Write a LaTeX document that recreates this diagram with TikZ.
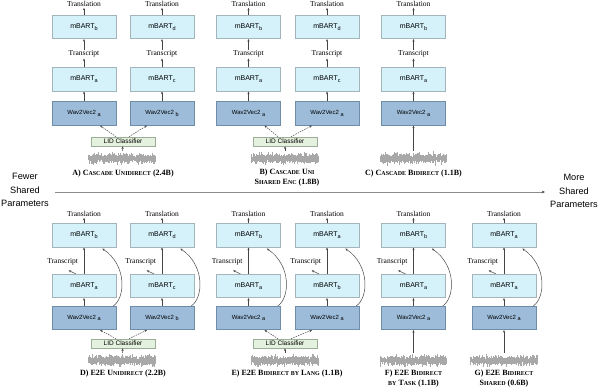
\documentclass[tikz,border=0pt]{standalone}
\usepackage{fontspec}
\setmainfont{Liberation Serif}
\setsansfont{Liberation Sans}
\usetikzlibrary{arrows.meta,calc}
\definecolor{mbfill}{HTML}{D5F2FB}
\definecolor{mbdraw}{HTML}{A3B5BB}
\definecolor{wvfill}{HTML}{9DBCDA}
\definecolor{wvdraw}{HTML}{6F8CA9}
\definecolor{lidfill}{HTML}{E4F1DE}
\definecolor{liddraw}{HTML}{9DAE98}
\definecolor{arrc}{HTML}{454545}
\definecolor{axisc}{HTML}{8C8C8C}
\definecolor{wavec}{HTML}{A8A8A8}
\newcommand\sbs[1]{\raisebox{-1.8pt}{\fontsize{5.5}{5.5}\selectfont #1}}
\newcommand\sm[1]{{\fontsize{6}{6}\selectfont #1}}
\tikzset{
  mb/.style={draw=mbdraw, fill=mbfill, line width=0.6pt, minimum width=64pt, minimum height=23.5pt, inner sep=0pt, font=\sffamily\fontsize{7}{8}\selectfont},
  wv/.style={mb, draw=wvdraw, fill=wvfill, font=\sffamily\fontsize{6}{7}\selectfont},
  lidbox/.style={draw=liddraw, fill=lidfill, line width=0.6pt, minimum width=64pt, minimum height=9pt, inner sep=0pt, font=\sffamily\fontsize{6.5}{7}\selectfont},
  lbl/.style={font=\fontsize{7.5}{8}\selectfont, inner sep=1pt},
  arr/.style={draw=arrc, line width=0.5pt, -{Stealth[length=2.6pt,width=2.2pt]}},
  darr/.style={arr, dash pattern=on 1.5pt off 1pt},
  capt/.style={font=\bfseries\fontsize{8}{10}\selectfont, align=center, inner sep=0pt},
  side/.style={font=\sffamily\fontsize{9.2}{13.3}\selectfont, align=center, inner sep=0pt},
  wavebox/.style={minimum width=67pt, minimum height=15pt, inner sep=0pt},
}
\newcommand\topcol[5]{%
  \node[wv] (#1w) at (#2,113.5) {Wav2Vec2 \sbs{#3}};
  \node[mb] (#1l) at (#2,79.5) {mBART\sbs{#4}};
  \node[lbl] (#1tc) at (#2,54) {Transcript};
  \node[mb] (#1u) at (#2,27) {mBART\sbs{#5}};
  \node[lbl] (#1tl) at (#2,4) {Translation};
  \draw[arr] (#1w) -- (#1l);
  \draw[arr] (#1l) -- (#1tc);
  \draw[arr] (#1tc) -- (#1u);
  \draw[arr] (#1u) -- (#1tl);
}
\newcommand\botcol[5]{%
  \node[wv] (#1w) at (#2,318) {Wav2Vec2 \sbs{#3}};
  \node[mb] (#1l) at (#2,286) {mBART\sbs{#4}};
  \node[mb] (#1u) at (#2,235.5) {mBART\sbs{#5}};
  \node[lbl] (#1tl) at (#2,214) {Translation};
  \node[lbl] (#1tc) at ($(#1l.north west)+(11,-12)$) {Transcript};
  \draw[arr] (#1w) -- (#1l);
  \draw[arr] (#1l) -- (#1u);
  \draw[arr] (#1u) -- (#1tl);
  \draw[arr] ([xshift=-8pt]#1l.north) -- ($(#1tc.south)+(6,4)$);
  \draw[arr] ($(#1w.north east)+(-3,0)$) .. controls ($(#1w.north east)+(9,-8)$) and ($(#1u.south east)+(11,18)$) .. ($(#1u.south east)+(-14,1)$);
}
\newcommand\wave[3]{%
  \node[wavebox] (#1) at (#2,#3) {};
  \foreach \i in {0,...,148} {
    \pgfmathsetmacro\ha{1.0+3.2*rnd+3.2*rnd^4}
    \pgfmathsetmacro\hb{1.0+3.2*rnd+3.2*rnd^4}
    \draw[wavec, line width=0.4pt] (#2-33.5+\i*0.45,#3-\ha) -- (#2-33.5+\i*0.45,#3+\hb);
  }
}
\begin{document}
\begin{tikzpicture}[x=1pt,y=-1pt]
\useasboundingbox (0,0) rectangle (598,388);
\pgfmathsetseed{7}
% ---------- top row ----------
\topcol{A1}{84}{a}{a}{b}
\topcol{A2}{162}{b}{c}{d}
\node[lidbox] (Alid) at (123,141.5) {LID Classifier};
\wave{Awv}{122}{158.5}
\draw[arr] (Awv) -- (Alid);
\draw[darr] ([xshift=-7pt]Alid.north) -- ([xshift=16pt]A1w.south);
\draw[darr] ([xshift=6pt]Alid.north) -- ([xshift=-15pt]A2w.south);
\node[capt] (capA) at (123,173.5) {A) C\sm{ASCADE} U\sm{NIDIRECT} (2.4B)};

\topcol{B1}{248.5}{a}{a}{b}
\topcol{B2}{327}{a}{c}{d}
\node[lidbox] (Blid) at (285,141.5) {LID Classifier};
\wave{Bwv}{285}{158.5}
\draw[arr] (Bwv) -- (Blid);
\draw[darr] ([xshift=-7pt]Blid.north) -- ([xshift=16pt]B1w.south);
\draw[darr] ([xshift=6pt]Blid.north) -- ([xshift=-15pt]B2w.south);
\node[capt] (capB) at (287,178) {B) C\sm{ASCADE} U\sm{NI}\\S\sm{HARED} E\sm{NC} (1.8B)};

\topcol{C1}{413.5}{a}{a}{b}
\wave{Cwv}{413.5}{158.5}
\draw[arr] (Cwv) -- (C1w);
\node[capt] (capC) at (413.5,173.5) {C) C\sm{ASCADE} B\sm{IDIRECT} (1.1B)};

% ---------- axis ----------
\node[side] (fewer) at (25,190) {Fewer\\Shared\\Parameters};
\node[side] (more) at (574,191) {More\\Shared\\Parameters};
\coordinate (axs) at (55,192);
\coordinate (axe) at (545,192);
\draw[axisc, line width=0.6pt, -{Stealth[length=3.2pt,width=2.6pt,color=arrc]}] (axs) -- (axe);

% ---------- bottom row ----------
\botcol{D1}{84}{a}{a}{b}
\botcol{D2}{162}{b}{c}{d}
\node[lidbox] (Dlid) at (123,343.5) {LID Classifier};
\wave{Dwv}{122}{360.5}
\draw[arr] (Dwv) -- (Dlid);
\draw[darr] ([xshift=-7pt]Dlid.north) -- ([xshift=16pt]D1w.south);
\draw[darr] ([xshift=6pt]Dlid.north) -- ([xshift=-15pt]D2w.south);
\node[capt] (capD) at (123,374) {D) E2E U\sm{NIDIRECT} (2.2B)};

\botcol{E1}{248.5}{a}{a}{b}
\botcol{E2}{327}{a}{b}{a}
\node[lidbox] (Elid) at (285,343.5) {LID Classifier};
\wave{Ewv}{285}{360.5}
\draw[arr] (Ewv) -- (Elid);
\draw[darr] ([xshift=-7pt]Elid.north) -- ([xshift=16pt]E1w.south);
\draw[darr] ([xshift=6pt]Elid.north) -- ([xshift=-15pt]E2w.south);
\node[capt] (capE) at (287,374) {E) E2E B\sm{IDIRECT BY} L\sm{ANG} (1.1B)};

\botcol{F1}{413.5}{a}{a}{b}
\wave{Fwv}{413.5}{360.5}
\draw[arr] (Fwv) -- (F1w);
\node[capt] (capF) at (413.5,378.5) {F) E2E B\sm{IDIRECT}\\\sm{BY} T\sm{ASK} (1.1B)};

\botcol{G1}{504}{a}{a}{a}
\wave{Gwv}{504}{360.5}
\draw[arr] (Gwv) -- (G1w);
\node[capt] (capG) at (504,378.5) {G) E2E B\sm{IDIRECT}\\S\sm{HARED} (0.6B)};
\end{tikzpicture}
\end{document}
